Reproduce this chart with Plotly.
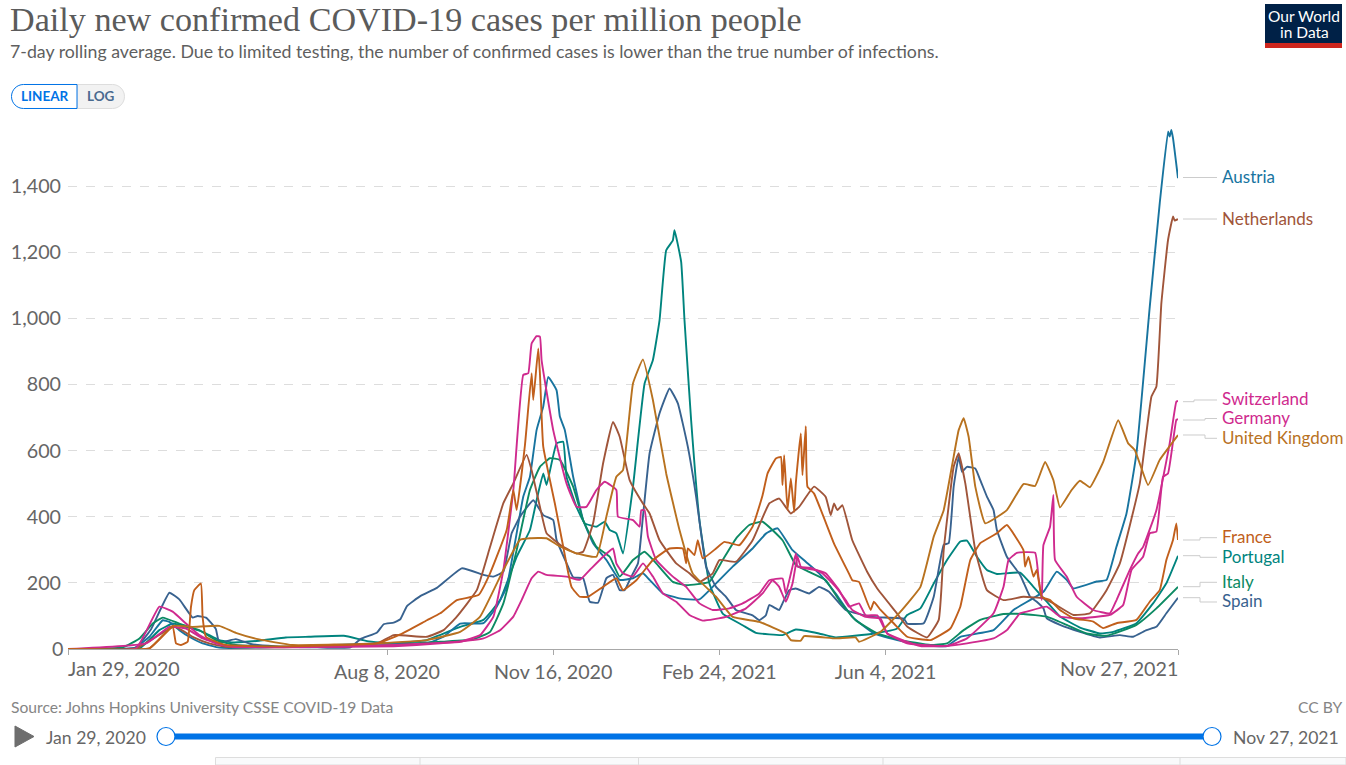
import pandas as pd
import plotly.graph_objects as go

START = "2020-01-29"
# days since Jan 29, 2020 and daily new cases per million
austria_days = [0,39,49,57,61,67,73,81,91,120,186,216,226,236,250,258,264,274,278,282,286,289,294,296,299,304,310,316,324,332,340,346,350,358,368,380,388,400,412,420,427,436,444,452,462,472,485,499,513,529,537,557,569,587,595,601,605,619,625,631,637,643,651,657,662,663,664,665,668]
austria_vals = [0,0,37,87,82,57,37,17,4,5,17,17,37,77,78,128,188,461,521,662,733,823,783,703,662,521,390,320,269,209,214,229,209,168,153,150,188,249,304,349,365,299,264,229,168,97,47,27,12,9,37,57,118,173,234,209,183,204,209,310,410,592,1035,1348,1565,1550,1570,1545,1424]

netherlands_days = [0,41,64,75,85,95,130,186,196,216,226,234,246,254,262,268,276,279,284,288,298,306,310,316,322,328,332,338,346,350,356,366,374,380,388,392,402,412,422,428,435,440,449,456,459,461,463,466,472,481,487,499,505,517,524,527,533,536,540,546,553,563,575,587,593,605,615,625,633,645,652,655,658,662,665,666,668]
netherlands_vals = [0,2,68,37,17,7,5,17,42,37,57,98,178,309,441,501,587,541,430,350,309,289,294,380,561,687,642,511,440,410,329,259,229,203,229,269,264,329,440,455,410,430,491,460,405,440,420,435,329,233,183,107,68,35,88,299,551,592,501,299,178,148,158,153,138,103,108,178,259,501,763,794,1046,1237,1308,1296,1300]

switzerland_days = [0,41,55,63,71,79,89,99,140,196,216,236,248,256,262,268,274,277,279,282,284,285,292,300,306,312,318,323,330,331,340,344,345,347,349,354,364,372,380,388,398,406,416,422,430,432,438,439,450,456,464,470,476,480,487,493,505,529,541,557,563,566,571,582,584,586,587,591,593,594,601,607,617,627,631,639,644,647,655,663,667,668]
switzerland_vals = [0,2,128,113,77,42,17,7,5,12,17,22,42,98,239,481,829,834,924,946,945,874,662,501,430,430,481,506,481,400,390,370,420,420,340,269,219,188,138,118,123,138,168,208,213,168,289,249,239,229,178,128,138,102,102,47,17,9,32,108,188,269,291,291,219,148,314,370,466,269,219,158,118,108,148,239,289,309,420,622,748,750]

germany_days = [0,47,61,71,81,95,140,196,224,250,260,268,273,279,283,288,300,308,314,322,328,330,334,340,346,352,358,366,374,382,396,408,418,424,428,432,436,439,441,448,454,462,468,472,480,489,493,513,529,541,557,565,573,577,589,597,609,627,635,640,647,651,655,659,662,667,668]
germany_vals = [0,17,67,62,32,10,6,8,17,32,57,98,148,214,234,224,219,209,239,279,304,259,229,219,259,219,168,143,103,86,97,123,168,208,188,143,198,279,249,244,229,188,148,118,97,92,47,9,9,17,32,57,108,113,128,98,93,103,133,239,279,350,355,521,531,693,695]

united_kingdom_days = [0,49,63,75,91,101,115,135,186,216,236,248,262,272,278,288,296,306,318,324,330,334,340,346,352,360,368,376,390,400,416,432,435,441,443,462,474,476,489,501,513,521,527,533,536,539,542,546,552,565,575,582,588,593,597,604,609,615,623,632,638,642,650,657,668]
united_kingdom_vals = [0,2,70,67,70,49,29,12,17,27,52,98,239,330,335,335,310,289,279,400,521,541,803,876,753,531,360,228,158,97,82,47,27,25,39,32,35,22,52,113,188,340,420,582,662,698,642,491,380,420,499,493,566,511,428,481,509,489,566,692,622,602,496,572,647]

france_days = [0,49,63,65,68,72,74,76,80,81,83,95,130,186,200,216,224,234,247,254,264,268,270,275,279,280,283,284,286,293,298,303,308,313,322,330,334,342,352,362,370,372,373,377,379,382,390,395,404,412,418,421,426,429,430,431,433,435,437,438,441,442,444,445,449,461,470,472,476,483,485,489,497,505,519,531,537,543,549,559,565,575,576,578,581,583,586,591,597,605,617,623,631,643,651,657,661,665,667,668]
france_vals = [0,2,67,17,12,22,127,178,198,97,37,12,8,17,44,87,108,148,163,229,360,481,420,617,834,753,909,834,612,440,310,188,158,158,188,214,178,208,269,304,304,259,304,284,329,274,304,324,314,370,465,531,576,581,496,586,420,516,415,501,652,526,674,491,470,319,228,208,203,118,143,118,77,37,27,62,128,269,320,350,375,299,249,279,219,239,158,148,118,93,83,63,78,88,143,178,269,330,380,330]

portugal_days = [0,43,55,63,71,81,91,99,115,131,145,166,180,196,216,236,250,260,270,278,282,286,288,294,298,300,306,311,318,323,326,330,334,340,347,352,356,360,364,365,369,371,375,380,386,394,406,414,430,438,452,462,485,499,505,513,521,529,537,541,547,553,559,573,581,589,597,609,621,629,643,653,661,668]
portugal_vals = [0,2,57,77,67,52,27,20,25,35,37,40,24,17,27,67,88,148,279,360,450,531,496,622,627,521,430,380,370,385,360,350,289,491,803,874,995,1206,1236,1267,1171,995,692,390,198,107,72,49,42,59,47,35,47,62,103,123,198,269,325,328,279,239,227,231,188,143,98,65,47,52,78,138,199,282]

italy_days = [0,33,43,51,57,67,79,89,101,135,196,224,244,254,262,270,278,284,290,296,304,310,318,326,332,340,347,354,364,372,386,394,402,410,418,430,438,446,456,464,474,487,501,519,529,539,549,563,575,589,601,613,625,643,655,668]
italy_vals = [0,5,32,77,95,77,57,27,12,7,12,22,29,52,138,299,481,551,577,572,491,390,309,279,219,269,294,259,203,193,203,269,334,375,385,329,254,233,208,148,87,47,27,12,17,57,88,106,106,98,73,47,40,73,123,188]

spain_days = [0,30,41,50,61,67,75,78,83,86,89,91,101,110,125,150,170,176,186,190,196,200,204,212,222,237,250,256,262,267,272,280,286,292,294,300,304,310,314,319,324,328,332,335,339,343,346,350,356,362,367,373,378,381,384,390,396,402,412,416,420,422,428,430,434,438,446,452,458,468,484,503,505,515,521,527,530,533,536,538,541,546,549,553,557,559,565,573,579,583,587,589,597,609,621,633,641,649,655,661,668]
spain_vals = [0,0,5,60,170,150,95,100,95,80,60,20,30,15,8,5,5,30,50,75,80,90,130,160,185,244,224,219,234,350,400,450,405,390,330,260,217,214,143,140,214,224,178,178,219,259,400,592,713,788,743,612,461,350,249,188,158,118,102,87,102,133,118,138,178,183,168,188,173,118,97,92,77,78,158,315,320,491,582,536,551,546,511,461,420,360,279,224,158,143,123,93,73,52,35,42,37,57,67,108,155]

# Draw order and names
series = [
    ("Portugal", portugal_days, portugal_vals, "#00847E"),
    ("Austria", austria_days, austria_vals, "#18749F"),
    ("Spain", spain_days, spain_vals, "#38628F"),
    ("Italy", italy_days, italy_vals, "#0C8A63"),
    ("Netherlands", netherlands_days, netherlands_vals, "#A0553A"),
    ("Germany", germany_days, germany_vals, "#CF2A8E"),
    ("Switzerland", switzerland_days, switzerland_vals, "#CF2A8E"),
    ("United Kingdom", united_kingdom_days, united_kingdom_vals, "#B8721F"),
    ("France", france_days, france_vals, "#C15F1C"),
]
y_ticks = [200, 400, 600, 800, 1000, 1200, 1400]
x_tick_dates = ["2020-08-08", "2020-11-16", "2021-02-24", "2021-06-04"]
x_tick_labels = ["Aug 8, 2020", "Nov 16, 2020", "Feb 24, 2021", "Jun 4, 2021"]
END = "2021-11-27"

labels = [
    ("Austria", 176, "#18749F"), ("Netherlands", 218, "#A0553A"),
    ("Switzerland", 398.5, "#CF2A8E"), ("Germany", 417, "#CF2A8E"),
    ("United Kingdom", 437, "#B8721F"), ("France", 536, "#C15F1C"),
    ("Portugal", 556, "#00847E"), ("Italy", 581, "#0C8A63"), ("Spain", 600, "#38628F"),
]
connectors = [
    (177.5, 177.5, 1200), (219, 219, 1200), (401.7, 400, 1194), (420, 418.5, 1205),
    (435, 438.3, 1205), (540, 537.7, 1200), (555.7, 557.3, 1200), (586.7, 582.3, 1200),
    (597.7, 602, 1200),
]

W, H = 1346, 765
L, R, T, B = 68, 1178, 120, 649
X = lambda px: (px - L) / (R - L)
Y = lambda py: (B - py) / (B - T)
FONT = "Lato, Roboto, sans-serif"
TICK = 19.7

fig = go.Figure()
for name, days, vals, color in series:
    dates = pd.Timestamp(START) + pd.to_timedelta(days, unit="D")
    fig.add_trace(go.Scatter(x=dates, y=vals, mode="lines", name=name,
                             line=dict(color=color, width=1.9, shape="spline", smoothing=0.35),
                             showlegend=False))

shapes, ann = [], []

def text(s, px, py, size, color, anchor="left", family=FONT):
    ann.append(dict(text=s, x=X(px), y=Y(py), xref="paper", yref="paper", showarrow=False,
                    xanchor=anchor, yanchor="middle", font=dict(size=size, color=color, family=family),
                    borderpad=0, borderwidth=0, align=anchor))

def shape(path, fill=None, line=None, lw=1):
    pts = " ".join(path)
    shapes.append(dict(type="path", path=pts, xref="paper", yref="paper",
                       fillcolor=fill or "rgba(0,0,0,0)",
                       line=dict(color=line or "rgba(0,0,0,0)", width=lw if line else 0), layer="above"))

def P(cmd, px, py):
    return f"{cmd}{X(px):.5f},{Y(py):.5f}"

def rect(x0, y0, x1, y1, fill, line=None, lw=1):
    shapes.append(dict(type="rect", x0=X(x0), x1=X(x1), y0=Y(y0), y1=Y(y1), xref="paper", yref="paper",
                       fillcolor=fill, line=dict(color=line or fill, width=lw if line else 0), layer="above"))

# headings
text("Daily new confirmed COVID-19 cases per million people", 10, 20, 34.15, "#5b5b5b", family="Liberation Serif")
text("7-day rolling average. Due to limited testing, the number of confirmed cases is lower than the true number of infections.",
     10, 51, 17.75, "#5f5f5f")

# LINEAR / LOG toggle
def rounded_left(x0, y0, x1, y1, r):
    return [P("M", x1, y0), P("L", x0 + r, y0),
            f"C{X(x0+r*.45):.5f},{Y(y0):.5f} {X(x0):.5f},{Y(y0+r*.45):.5f} {X(x0):.5f},{Y(y0+r):.5f}",
            P("L", x0, y1 - r),
            f"C{X(x0):.5f},{Y(y1-r*.45):.5f} {X(x0+r*.45):.5f},{Y(y1):.5f} {X(x0+r):.5f},{Y(y1):.5f}",
            P("L", x1, y1), "Z"]

def rounded_right(x0, y0, x1, y1, r):
    return [P("M", x0, y0), P("L", x1 - r, y0),
            f"C{X(x1-r*.45):.5f},{Y(y0):.5f} {X(x1):.5f},{Y(y0+r*.45):.5f} {X(x1):.5f},{Y(y0+r):.5f}",
            P("L", x1, y1 - r),
            f"C{X(x1):.5f},{Y(y1-r*.45):.5f} {X(x1-r*.45):.5f},{Y(y1):.5f} {X(x1-r):.5f},{Y(y1):.5f}",
            P("L", x0, y1), "Z"]

shape(rounded_right(77, 84.5, 124.5, 108.5, 12), "#f2f2f2", "#dddddd")
shape(rounded_left(11.5, 84.5, 77, 108.5, 12), "#ffffff", "#0073e6")
text("<b>LINEAR</b>", 44.5, 96, 13.5, "#0073e6", "center")
text("<b>LOG</b>", 101, 96, 13.5, "#4a6a8f", "center")

# logo
rect(1265, 4, 1342, 48, "#002147")
rect(1265, 43, 1342, 48, "#ce261e")
text("Our World", 1304, 15.5, 15.5, "#ffffff", "center")
text("in Data", 1304, 31.5, 15.5, "#ffffff", "center")

# end labels with connectors
for name, py, color in labels:
    text(name, 1222, py, 17, color)
for y0, y1, mid in connectors:
    shape([P("M", 1183, y0), P("L", mid, y0), P("L", mid, y1), P("L", 1217, y1)], None, "#cccccc", 1)

# x tick labels at both ends, aligned to the plot edges
ann.append(dict(text="Jan 29, 2020", x=START, y=Y(668), xref="x", yref="paper", showarrow=False, xanchor="left",
                xshift=-2, yanchor="middle", font=dict(size=TICK, color="#666666", family=FONT)))
ann.append(dict(text="Nov 27, 2021", x=END, y=Y(668), xref="x", yref="paper", showarrow=False, xanchor="right",
                xshift=2, yanchor="middle", font=dict(size=TICK, color="#666666", family=FONT)))

# footer
text("Source: Johns Hopkins University CSSE COVID-19 Data", 11, 707, 15.65, "#858585")
text("CC BY", 1342, 707, 15.65, "#858585", "right")

# time slider
shape([P("M", 15, 726), P("L", 34, 736.5), P("L", 15, 747), "Z"], "#6e6e6e", "#6e6e6e", 1)
text("Jan 29, 2020", 46, 737, 17.6, "#666666")
text("Nov 27, 2021", 1233, 737, 17.6, "#666666")
rect(166, 733.5, 1212, 739.5, "#0073e6")
for cx in (166, 1212):
    shapes.append(dict(type="circle", x0=X(cx - 9), x1=X(cx + 9), y0=Y(736.5 - 9), y1=Y(736.5 + 9),
                       xref="paper", yref="paper", fillcolor="#ffffff",
                       line=dict(color="#0073e6", width=1.2), layer="above"))

# tab strip cut off by the bottom edge
rect(215.5, 757.5, 1346, 765, "#f9fafb", "#dddddd")
for vx in (420, 638.5, 883, 1180):
    shape([P("M", vx, 757.5), P("L", vx, 765)], None, "#dddddd", 1)

# zero label sits on the baseline
text("0", 62.5, 648.5, TICK, "#666666", "right")

fig.update_layout(
    width=W, height=H, autosize=False,
    margin=dict(l=L, r=W - R, t=T, b=H - B, pad=0),
    paper_bgcolor="#ffffff", plot_bgcolor="#ffffff",
    font=dict(family=FONT, color="#666666"),
    shapes=shapes, annotations=ann, hovermode=False,
    xaxis=dict(type="date", range=[START, END], tickmode="array",
               tickvals=[START] + x_tick_dates + [END], ticktext=[""] + x_tick_labels + [""],
               showgrid=False, zeroline=False, showline=True, linecolor="#a8a8a8", linewidth=1,
               ticks="outside", ticklen=5, tickcolor="#a8a8a8", tickfont=dict(size=TICK, color="#666666")),
    yaxis=dict(range=[0, 1600], tickmode="array", tickvals=y_ticks,
               tickformat=",d", showgrid=True, gridcolor="#dddddd", griddash="dash", gridwidth=1,
               zeroline=False, showline=False, ticks="", ticklabelstandoff=6,
               tickfont=dict(size=TICK, color="#666666")),
)

fig.write_html("out.html", config=dict(displayModeBar=False),
               post_script="document.body.style.margin='0';document.body.style.overflow='hidden';")
